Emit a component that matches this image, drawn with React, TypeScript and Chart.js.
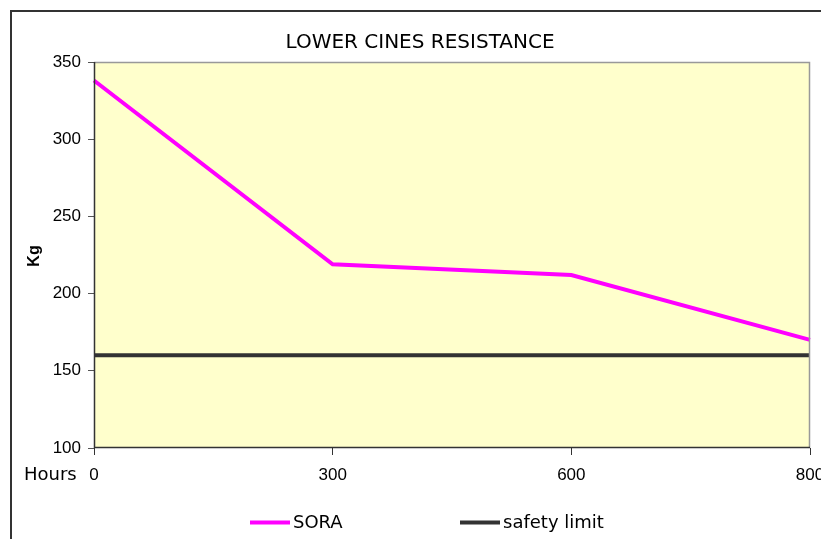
import React, { useEffect, useRef } from "react";
import { Chart, registerables } from "chart.js";

Chart.register(...registerables);

const hours = ["0", "300", "600", "800"];
const soraValues = [338, 219, 212, 170];
const safetyValues = [160, 160, 160, 160];
const yTicks = [100, 150, 200, 250, 300, 350];

const TITLE = "LOWER CINES RESISTANCE";
const Y_TITLE = "Kg";
const X_TITLE = "Hours";

const decorPlugin = {
  id: "decor",
  beforeDraw(chart: any) {
    const { ctx, chartArea } = chart;
    ctx.save();
    ctx.fillStyle = "#FFFFCC";
    ctx.fillRect(chartArea.left, chartArea.top, chartArea.right - chartArea.left, chartArea.bottom - chartArea.top);
    ctx.restore();
  },
  afterDraw(chart: any) {
    const { ctx, chartArea } = chart;
    ctx.save();
    // plot border top/right
    ctx.strokeStyle = "#999999";
    ctx.lineWidth = 1.5;
    ctx.beginPath();
    ctx.moveTo(chartArea.left, chartArea.top + 0.5);
    ctx.lineTo(chartArea.right - 0.5, chartArea.top + 0.5);
    ctx.lineTo(chartArea.right - 0.5, chartArea.bottom);
    ctx.stroke();
    // axes left/bottom
    ctx.strokeStyle = "#333333";
    ctx.lineWidth = 1.5;
    ctx.beginPath();
    ctx.moveTo(chartArea.left + 0.5, chartArea.top);
    ctx.lineTo(chartArea.left + 0.5, chartArea.bottom - 0.5);
    ctx.lineTo(chartArea.right, chartArea.bottom - 0.5);
    ctx.stroke();
    // outer frame
    ctx.strokeStyle = "#333333";
    ctx.lineWidth = 2;
    ctx.beginPath();
    ctx.moveTo(11, 539);
    ctx.lineTo(11, 11);
    ctx.lineTo(821, 11);
    ctx.stroke();
    // title
    ctx.fillStyle = "#000000";
    ctx.font = "20px 'DejaVu Sans', sans-serif";
    ctx.textAlign = "center";
    ctx.textBaseline = "middle";
    ctx.fillText(TITLE, 420, 43);
    // y title
    ctx.save();
    ctx.translate(35, 256);
    ctx.rotate(-Math.PI / 2);
    ctx.font = "bold 16px 'Liberation Sans', Arial, sans-serif";
    ctx.fillText(Y_TITLE, 0, 0);
    ctx.restore();
    // x title
    ctx.font = "18px 'DejaVu Sans', sans-serif";
    ctx.textAlign = "left";
    ctx.fillText(X_TITLE, 24, 475);
    // legend
    const items = [
      { x: 250, ds: chart.data.datasets[0] },
      { x: 460, ds: chart.data.datasets[1] },
    ];
    items.forEach((it) => {
      ctx.strokeStyle = it.ds.borderColor;
      ctx.lineWidth = 4;
      ctx.beginPath();
      ctx.moveTo(it.x, 522.5);
      ctx.lineTo(it.x + 40, 522.5);
      ctx.stroke();
      ctx.fillStyle = "#000000";
      ctx.font = "18px 'DejaVu Sans', sans-serif";
      ctx.textAlign = "left";
      ctx.textBaseline = "middle";
      ctx.fillText(it.ds.label, it.x + 43, 523);
    });
    ctx.restore();
  },
};

export default function App() {
  const ref = useRef<HTMLCanvasElement>(null);
  useEffect(() => {
    document.body.style.margin = "0";
    const chart = new Chart(ref.current!, {
      type: "line",
      data: {
        labels: hours,
        datasets: [
          {
            label: "SORA",
            data: soraValues,
            borderColor: "#FF00FF",
            backgroundColor: "#FF00FF",
            borderWidth: 4,
            pointRadius: 0,
            tension: 0,
          },
          {
            label: "safety limit",
            data: safetyValues,
            borderColor: "#333333",
            backgroundColor: "#333333",
            borderWidth: 4,
            pointRadius: 0,
            tension: 0,
          },
        ],
      },
      options: {
        responsive: false,
        animation: false,
        layout: { padding: { left: 0, top: 62, right: 11, bottom: 46 } },
        plugins: {
          legend: { display: false },
          title: { display: false },
          tooltip: { enabled: false },
        },
        scales: {
          x: {
            type: "category",
            offset: false,
            border: { display: false },
            grid: {
              drawOnChartArea: false,
              drawTicks: true,
              tickLength: 7,
              color: "#333333",
            },
            ticks: {
              color: "#000000",
              padding: 10,
              maxRotation: 0,
              autoSkip: false,
              font: { family: "Liberation Sans", size: 17 },
            },
            afterFit: (s: any) => {
              s.height = 45;
              s.paddingLeft = 0;
              s.paddingRight = 0;
            },
          },
          y: {
            min: 100,
            max: 350,
            border: { display: false },
            afterBuildTicks: (s: any) => {
              s.ticks = yTicks.map((v) => ({ value: v }));
            },
            grid: {
              drawOnChartArea: false,
              drawTicks: true,
              tickLength: 6,
              color: "#555555",
            },
            ticks: {
              color: "#000000",
              padding: 7,
              font: { family: "Liberation Sans", size: 17 },
            },
            afterFit: (s: any) => {
              s.width = 94;
              s.paddingTop = 0;
              s.paddingBottom = 0;
            },
          },
        },
      },
      plugins: [decorPlugin],
    });
    return () => chart.destroy();
  }, []);
  return (
    <div style={{ position: "absolute", left: 0, top: 0, width: 821, height: 539, background: "#fff" }}>
      <canvas ref={ref} width={821} height={539} style={{ width: 821, height: 539 }} />
    </div>
  );
}
